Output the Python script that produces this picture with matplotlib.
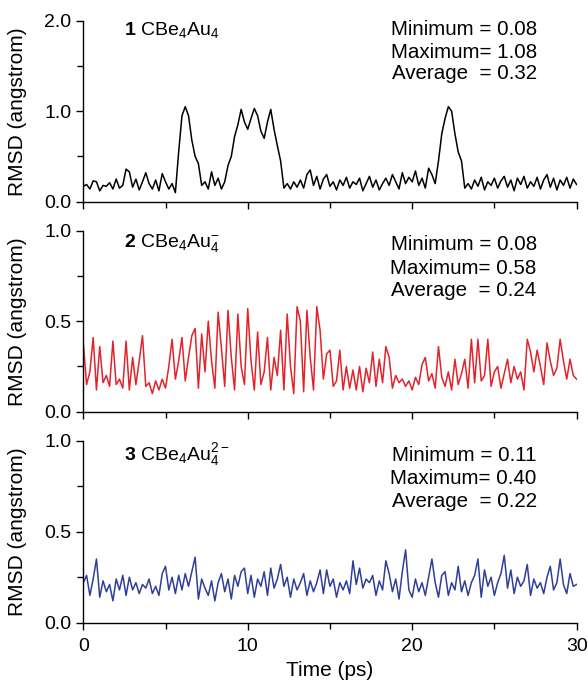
# RMSD vs time for the three CBe4Au4 species

# import packages
import numpy as np
import matplotlib
matplotlib.use("Agg")
import matplotlib.pyplot as plt

plt.rcParams['font.family'] = ['Liberation Sans', 'DejaVu Sans']
plt.rcParams['mathtext.fontset'] = 'custom'
plt.rcParams['mathtext.rm'] = 'Liberation Sans'
plt.rcParams['mathtext.bf'] = 'Liberation Sans:bold'
plt.rcParams['mathtext.it'] = 'Liberation Sans:italic'

# time axis (ps), one sample every 0.2 ps
time_ps = np.arange(151) * 0.2

# 1 CBe4Au4 (neutral)
rmsd_1 = [
    0.17, 0.19, 0.14, 0.23, 0.22, 0.12, 0.18, 0.17, 0.21, 0.14,
    0.25, 0.15, 0.18, 0.36, 0.33, 0.16, 0.25, 0.13, 0.22, 0.32,
    0.20, 0.14, 0.24, 0.12, 0.31, 0.22, 0.14, 0.20, 0.10, 0.55,
    0.95, 1.05, 0.95, 0.68, 0.50, 0.42, 0.18, 0.22, 0.14, 0.33,
    0.18, 0.26, 0.14, 0.22, 0.40, 0.50, 0.72, 0.85, 1.02, 0.88,
    0.80, 0.92, 1.03, 0.95, 0.78, 0.70, 0.88, 1.02, 0.80, 0.62,
    0.45, 0.15, 0.20, 0.14, 0.22, 0.16, 0.24, 0.15, 0.30, 0.35,
    0.18, 0.28, 0.14, 0.25, 0.30, 0.17, 0.22, 0.13, 0.24, 0.18,
    0.27, 0.15, 0.22, 0.19, 0.26, 0.12, 0.20, 0.28, 0.16, 0.24,
    0.13, 0.20, 0.26, 0.18, 0.30, 0.22, 0.14, 0.32, 0.20, 0.27,
    0.22, 0.34, 0.18, 0.26, 0.15, 0.37, 0.30, 0.20, 0.45, 0.75,
    0.92, 1.05, 1.00, 0.75, 0.55, 0.45, 0.15, 0.20, 0.14, 0.24,
    0.17, 0.27, 0.13, 0.22, 0.18, 0.26, 0.15, 0.23, 0.28, 0.16,
    0.24, 0.12, 0.26, 0.19, 0.28, 0.15, 0.22, 0.17, 0.27, 0.14,
    0.24, 0.30, 0.16, 0.26, 0.13, 0.24, 0.18, 0.27, 0.15, 0.25,
    0.19]

# 2 CBe4Au4- (anion)
rmsd_2 = [
    0.38, 0.15, 0.22, 0.41, 0.12, 0.36, 0.16, 0.20, 0.14, 0.39,
    0.15, 0.18, 0.13, 0.39, 0.12, 0.30, 0.15, 0.28, 0.42, 0.14,
    0.16, 0.10, 0.17, 0.12, 0.18, 0.13, 0.25, 0.40, 0.18, 0.28,
    0.41, 0.17, 0.30, 0.42, 0.46, 0.13, 0.43, 0.22, 0.50, 0.28,
    0.13, 0.55, 0.35, 0.14, 0.56, 0.30, 0.12, 0.54, 0.25, 0.15,
    0.57, 0.28, 0.12, 0.44, 0.15, 0.22, 0.41, 0.12, 0.30, 0.20,
    0.45, 0.12, 0.54, 0.25, 0.10, 0.58, 0.50, 0.11, 0.56, 0.30,
    0.12, 0.58, 0.45, 0.18, 0.32, 0.34, 0.14, 0.17, 0.34, 0.12,
    0.25, 0.13, 0.23, 0.12, 0.25, 0.11, 0.24, 0.16, 0.33, 0.14,
    0.29, 0.16, 0.36, 0.30, 0.13, 0.20, 0.16, 0.18, 0.14, 0.17,
    0.12, 0.19, 0.15, 0.26, 0.30, 0.17, 0.21, 0.13, 0.36, 0.19,
    0.14, 0.22, 0.12, 0.29, 0.15, 0.21, 0.29, 0.13, 0.40, 0.16,
    0.40, 0.17, 0.20, 0.40, 0.14, 0.22, 0.25, 0.13, 0.21, 0.29,
    0.16, 0.25, 0.18, 0.22, 0.12, 0.40, 0.33, 0.22, 0.34, 0.25,
    0.15, 0.38, 0.28, 0.20, 0.24, 0.40, 0.28, 0.18, 0.29, 0.20,
    0.18]

# 3 CBe4Au4 2- (dianion)
rmsd_3 = [
    0.22, 0.26, 0.15, 0.24, 0.35, 0.14, 0.23, 0.17, 0.21, 0.12,
    0.24, 0.18, 0.26, 0.15, 0.25, 0.18, 0.22, 0.16, 0.21, 0.19,
    0.24, 0.16, 0.20, 0.15, 0.27, 0.31, 0.18, 0.25, 0.16, 0.26,
    0.18, 0.27, 0.20, 0.28, 0.36, 0.13, 0.24, 0.19, 0.15, 0.23,
    0.12, 0.22, 0.27, 0.17, 0.24, 0.13, 0.26, 0.20, 0.28, 0.30,
    0.16, 0.26, 0.14, 0.24, 0.20, 0.28, 0.15, 0.30, 0.19, 0.24,
    0.32, 0.20, 0.25, 0.14, 0.24, 0.18, 0.22, 0.27, 0.15, 0.23,
    0.17, 0.22, 0.29, 0.16, 0.29, 0.20, 0.24, 0.14, 0.22, 0.18,
    0.23, 0.16, 0.34, 0.21, 0.30, 0.19, 0.24, 0.22, 0.26, 0.15,
    0.23, 0.18, 0.34, 0.27, 0.17, 0.24, 0.13, 0.28, 0.40, 0.18,
    0.14, 0.24, 0.17, 0.22, 0.15, 0.25, 0.35, 0.22, 0.14, 0.26,
    0.28, 0.15, 0.22, 0.18, 0.31, 0.17, 0.23, 0.15, 0.22, 0.26,
    0.35, 0.14, 0.29, 0.20, 0.25, 0.15, 0.22, 0.27, 0.37, 0.19,
    0.29, 0.16, 0.25, 0.20, 0.23, 0.32, 0.15, 0.24, 0.19, 0.22,
    0.16, 0.25, 0.31, 0.18, 0.22, 0.35, 0.21, 0.16, 0.27, 0.20,
    0.21]

series = [rmsd_1, rmsd_2, rmsd_3]
colors = ["black", "#e3232b", "#2f3f99"]
titles = [r"$\mathbf{1}$ CBe$_4$Au$_4$",
          r"$\mathbf{2}$ CBe$_4$Au$_4^{-}$",
          r"$\mathbf{3}$ CBe$_4$Au$_4^{2-}$"]
stats = [["Minimum = 0.08", "Maximum= 1.08", "Average  = 0.32"],
         ["Minimum = 0.08", "Maximum= 0.58", "Average  = 0.24"],
         ["Minimum = 0.11", "Maximum= 0.40", "Average  = 0.22"]]
ymax = [2.0, 1.0, 1.0]

# axes rectangles in pixel rows (top, bottom)
W, H = 588, 681
boxes = [(20.7, 201.7), (230.7, 411.7), (440.7, 622.7)]
title_y = [0.949, 0.930, 0.925]
stat_y = [[0.954, 0.827, 0.706], [0.921, 0.792, 0.672], [0.916, 0.790, 0.667]]

fig = plt.figure(figsize=(W / 100, H / 100), dpi=100)
for k in range(3):
    top, bot = boxes[k]
    ax = fig.add_axes([83.3 / W, 1 - bot / H, (576.6 - 83.3) / W, (bot - top) / H])
    ax.plot(time_ps, series[k], color=colors[k], lw=1.1)
    ax.set_xlim(0, 30)
    ax.set_ylim(0, ymax[k])
    ax.spines['top'].set_visible(False)
    ax.spines['right'].set_visible(False)
    ax.spines['left'].set_linewidth(1.0)
    ax.spines['bottom'].set_linewidth(1.0)
    ax.set_xticks([0, 10, 20, 30])
    ax.set_xticks([5, 15, 25], minor=True)
    if k == 0:
        ax.set_yticks([0.0, 1.0, 2.0])
        ax.set_yticks([0.5, 1.5], minor=True)
    else:
        ax.set_yticks([0.0, 0.5, 1.0])
        ax.set_yticks([0.25, 0.75], minor=True)
    ax.yaxis.set_major_formatter(matplotlib.ticker.FormatStrFormatter('%.1f'))
    ax.tick_params(which='major', direction='out', length=5, width=1.0, labelsize=14)
    ax.tick_params(which='minor', direction='out', length=4.5, width=1.0)
    ax.tick_params(axis='x', which='major', pad=6)
    if k < 2:
        ax.tick_params(axis='x', which='both', labelbottom=False)
    ax.set_ylabel("RMSD (angstrom)", fontsize=15)
    ax.yaxis.set_label_coords(-0.114, 0.5)
    ax.text(0.0825, title_y[k], titles[k], transform=ax.transAxes,
            fontsize=14, ha='left', va='center')
    for j in range(3):
        ax.text(0.919, stat_y[k][j], stats[k][j], transform=ax.transAxes,
                fontsize=14.8, ha='right', va='center')
    if k == 2:
        ax.set_xlabel("Time (ps)", fontsize=15)
        ax.xaxis.set_label_coords(0.5, -0.212)
        ax.xaxis.label.set_va('top')

plt.savefig("out.png", dpi=100)
